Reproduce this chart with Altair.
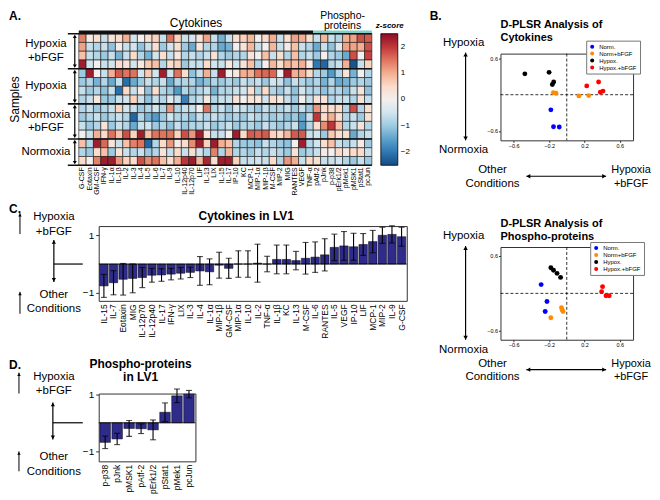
import altair as alt
import pandas as pd

# ---------------- data ----------------
cytokines = ["G-CSF", "Eotaxin", "GM-CSF", "IFN-γ", "IL-1α", "IL-1β", "IL-2", "IL-3", "IL-4", "IL-5",
             "IL-6", "IL-7", "IL-9", "IL-10", "IL-12p40", "IL-12p70", "LIF", "IL-13", "LIX", "IL-15",
             "IL-17", "IP-10", "KC", "MCP-1", "MIP-1α", "MIP-1β", "M-CSF", "MIP-2", "MIG", "RANTES",
             "VEGF", "TNF-α"]
phospho = ["pAtf-2", "pJnk", "p-p38", "pErk1/2", "pMek1", "pMSK1", "pStat1", "pcJun"]
sample_groups = ["Hypoxia\n+bFGF", "Hypoxia", "Normoxia\n+bFGF", "Normoxia"]
group_rows = [4, 4, 4, 3]

z_hyp_bfgf = [
    [1.4, 0.1, 0.4, -0.6, 0.3, 0.5, 1.0, -0.5, 0.0, 0.4, 0.6, -0.6, 1.5, 0.6, -0.6, -0.5, 0.3, 1.1, -0.6, -1.3, -0.6, 0.4, 0.6, 0.9, 0.0, 0.5, 1.0, -0.6, 0.4, 1.1, 1.0, 0.4, -0.6, 0.9, -0.6, -0.8, 1.0, 1.1, 1.8, 1.7],
    [1.1, -0.6, -0.8, -0.6, -1.1, 0.1, -0.6, -0.5, -1.1, -0.6, 0.4, -1.0, -0.5, 0.4, -1.0, -1.4, 0.2, -0.8, -0.8, -1.4, -1.3, 0.0, 0.3, 0.9, -0.6, 0.0, 0.9, -0.6, 0.1, 0.8, -0.6, -0.8, -1.4, -0.6, -1.1, -0.3, 1.1, 1.1, 1.0, 1.8],
    [0.8, -0.6, -0.8, -1.0, -0.6, -1.3, -0.6, 0.5, -0.8, -1.3, -0.5, 0.4, -0.6, 0.2, -0.8, -0.6, -0.8, -0.6, 0.3, -0.8, -1.0, -0.8, -0.8, 0.3, 0.0, 0.8, -0.6, 0.4, -0.8, 0.8, -0.8, -0.6, -1.0, 0.0, -0.8, -1.0, -1.4, 1.8, 0.0, 1.9],
    [2.3, -0.5, 0.0, -0.6, -0.5, 0.4, 0.3, -0.5, 0.2, 0.7, 0.8, -0.8, 0.4, 0.6, -1.0, -0.6, -0.6, 0.5, -0.5, -0.6, 0.2, -0.5, 0.3, 0.8, -0.8, 0.0, 0.9, 0.4, 0.9, 0.8, 1.0, 0.1, -2.0, -2.2, -0.8, -0.6, 1.0, -2.4, -0.6, 0.6],
]
z_hyp = [
    [-1.0, 2.3, 0.0, -0.6, 1.0, 1.7, 1.5, 1.5, -0.5, 0.7, -0.5, 2.3, -0.5, 1.5, 0.4, -1.1, -0.6, 1.0, -0.6, 2.3, 0.0, 0.2, 1.0, 1.0, 1.5, 1.6, 1.6, 0.0, 2.3, 1.0, 1.0, 0.5, -0.8, -1.0, -1.6, -0.8, 0.3, -1.3, 0.0, -0.8],
    [-1.0, -0.8, -1.3, -0.8, -1.4, -0.6, -2.1, -1.4, -1.0, -0.6, -0.8, -0.6, -1.4, -0.8, -0.8, -0.8, -1.3, -1.1, -0.8, -1.0, -0.8, -1.0, -0.6, -0.8, -0.6, -1.0, -0.5, -0.6, -1.1, -0.6, -0.8, -1.0, -0.8, -1.3, -0.8, -1.4, -1.3, -1.0, -0.8, -1.0],
    [-0.6, -1.0, -0.8, -1.1, -0.6, -2.1, 0.5, -0.6, 0.1, -1.1, 0.4, -0.8, -1.0, -1.6, -0.8, -1.0, -0.8, -0.6, -1.3, -0.8, -0.8, -0.6, -0.5, 0.4, -0.8, 0.5, -0.8, -1.0, -0.6, -1.1, -0.5, -0.8, -0.8, -1.1, -0.8, -0.8, -1.1, -0.6, 0.3, -1.1],
    [-0.8, -0.6, 0.2, -1.0, -1.0, -0.6, -0.5, 0.6, -0.6, -1.1, -0.6, -0.8, -0.3, -0.6, -1.9, -0.8, -0.6, 0.2, -0.8, -0.6, -0.6, 0.3, 0.0, 0.3, 0.2, -0.5, 0.4, 0.2, -0.6, -1.0, 0.0, -0.6, 0.3, 0.3, -0.8, -0.6, -0.6, -0.8, 0.3, -0.6],
]
z_norm_bfgf = [
    [-0.8, -0.6, -1.0, -0.8, -0.6, 0.6, -0.5, -0.6, -1.0, -0.8, -0.5, -0.8, 1.2, -0.8, -0.6, -0.6, 0.0, 1.5, -0.8, -0.6, -1.0, -0.5, -0.6, -0.8, -1.0, -0.6, -0.8, -0.8, -0.6, -1.0, -0.6, -1.0, 1.2, 0.5, 0.4, 0.5, -0.8, 1.8, -0.8, 0.4],
    [-1.0, -0.8, -0.6, -1.0, -0.8, -0.6, -0.8, -2.2, -0.8, -1.3, -1.6, -1.0, -0.5, -0.8, -0.8, -1.1, -0.6, -0.8, -0.6, -0.8, -1.0, -0.8, -1.0, -0.6, -0.8, -0.8, -1.0, -0.8, -1.1, -1.0, -1.4, -0.6, 2.0, 0.5, 1.0, 0.4, -0.8, -0.6, -1.0, 0.4],
    [-0.6, -1.0, -0.8, 0.3, -1.0, -0.6, -0.8, -1.4, -0.6, -0.5, -1.0, -0.8, -1.1, -0.6, -1.0, -0.8, -0.8, -0.6, -1.0, -0.8, -0.6, -1.0, -0.8, -0.8, -1.0, -0.6, -0.8, -1.0, -0.8, -0.6, -1.6, -0.8, 0.4, 1.3, 2.0, 0.8, -0.8, -0.6, 0.3, -0.8],
    [0.0, -0.6, 1.0, 0.5, 1.5, 0.8, 1.8, 0.6, 2.3, 0.8, 1.5, 1.5, 1.5, 0.6, 1.8, 1.2, 2.3, 0.3, -0.6, -0.6, 0.0, 2.3, 0.5, 1.7, 1.6, 1.7, 0.6, 0.5, 0.9, 1.7, 1.7, -0.6, -0.5, -1.0, 0.7, 0.4, 0.4, -1.4, -0.8, -0.6],
]
z_norm = [
    [0.8, -0.8, 2.3, 1.6, 0.3, -0.6, 0.8, 1.4, 1.5, -2.2, -0.8, 0.5, 1.2, 0.1, 0.5, 1.3, 2.3, 0.6, 2.3, 1.0, 0.8, -0.8, -1.0, -1.0, -1.1, -0.6, -0.8, -1.0, -1.1, 0.0, 2.3, -0.8, -0.5, 0.4, 0.8, -0.6, -0.8, -0.6, 0.1, -1.0],
    [-0.8, -1.0, 0.5, 0.8, -1.0, 0.3, -0.6, -0.8, -0.6, -1.0, -0.8, 0.3, -0.6, 0.5, -0.6, 0.4, -0.5, -0.8, 1.4, -0.8, 0.9, -0.8, -0.8, -1.0, -0.6, -0.8, -0.6, -0.8, -1.0, 0.3, -1.0, -0.8, -0.6, 0.1, 0.0, 0.5, 0.2, 0.5, 0.5, -0.6],
    [0.5, 0.0, 1.4, 2.3, 2.3, 1.2, 0.6, 0.5, 1.8, 1.3, 1.5, 0.8, 0.4, 1.0, 2.0, 2.3, 0.9, 2.2, 0.4, 2.3, 2.3, 0.6, -0.6, -0.6, -0.5, -0.6, 0.5, -0.8, 1.2, 1.0, -0.6, 0.5, 0.4, -0.6, -0.6, -0.5, -0.8, -1.0, -0.6, -1.0],
]

lv1_cyto_names = ["IL-15", "IL-7", "Eotaxin", "MIG", "IL-12p70", "IL-12p40", "IL-17", "IFN-γ", "LIX", "IL-3",
                  "IL-4", "IL-1α", "MIP-1β", "GM-CSF", "MIP-1α", "IL-10", "IL-2", "TNF-α", "IL-1β", "KC",
                  "IL-13", "M-CSF", "IL-6", "RANTES", "IL-5", "VEGF", "IP-10", "LIF", "MCP-1", "MIP-2",
                  "IL-9", "G-CSF"]
lv1_cyto_vals = [-0.76, -0.65, -0.53, -0.5, -0.47, -0.39, -0.38, -0.35, -0.32, -0.29,
                 -0.24, -0.27, -0.04, -0.15, 0.0, 0.0, 0.03, 0.0, 0.16, 0.16,
                 0.12, 0.2, 0.24, 0.32, 0.58, 0.63, 0.6, 0.68, 0.78, 1.0,
                 1.03, 0.95]
lv1_cyto_err = [0.4, 0.42, 0.55, 0.5, 0.35, 0.24, 0.22, 0.2, 0.2, 0.18,
                0.5, 0.45, 0.45, 0.35, 0.46, 0.46, 0.66, 0.27, 0.5, 0.5,
                0.32, 0.55, 0.53, 0.56, 0.46, 0.5, 0.47, 0.38, 0.39, 0.28,
                0.3, 0.33]

lv1_phos_names = ["p-p38", "pJnk", "pMSK1", "pAtf-2", "pErk1/2", "pStat1", "pMek1", "pcJun"]
lv1_phos_vals = [-0.69, -0.57, -0.2, -0.21, -0.25, 0.37, 0.95, 1.01]
lv1_phos_err = [0.22, 0.2, 0.28, 0.17, 0.35, 0.33, 0.24, 0.13]

score_groups = ["Norm.", "Norm+bFGF", "Hypox.", "Hypox.+bFGF"]
score_colors = ["#0000ff", "#ff8c00", "#000000", "#ff0000"]

cyto_grp = ["Norm."] * 3 + ["Norm+bFGF"] * 4 + ["Hypox."] * 4 + ["Hypox.+bFGF"] * 4
cyto_lv1 = [-0.18, -0.15, -0.085, -0.152, -0.122, 0.137, 0.248, -0.474, -0.2, -0.148, -0.163, 0.226, 0.36, 0.38, 0.41]
cyto_lv2 = [-0.25, -0.53, -0.535, 0.035, 0.025, -0.02, -0.015, 0.345, 0.37, 0.21, 0.17, 0.146, 0.21, 0.04, 0.06]

phos_grp = ["Norm."] * 3 + ["Norm+bFGF"] * 4 + ["Hypox."] * 4 + ["Hypox.+bFGF"] * 4
phos_lv1 = [-0.29, -0.224, -0.244, -0.18, -0.06, -0.042, -0.05, -0.18, -0.15, -0.11, -0.07, 0.405, 0.394, 0.444, 0.48]
phos_lv2 = [0.14, -0.13, -0.29, -0.39, -0.23, -0.29, -0.27, 0.41, 0.37, 0.32, 0.255, 0.107, 0.027, -0.037, -0.037]

BAR = "#2e2b8a"
one = pd.DataFrame({"k": [0]})
zero_df = pd.DataFrame({"z": [0.0]})


# ---------------- helpers ----------------
# note: for multi-line text, y is the centre of the FIRST line
def txt(s, x, y, size=11.5, weight="normal", align="center", baseline="middle", angle=0, style="normal",
        lh=None):
    return alt.Chart(one).mark_text(
        text=s, fontSize=size, fontWeight=weight, align=align, baseline=baseline, angle=angle,
        fontStyle=style, lineBreak="\n", color="black", lineHeight=lh or round(size * 1.2, 1)
    ).encode(x=alt.value(x), y=alt.value(y))


def seg(x1, y1, x2, y2, w=1.2):
    return alt.Chart(one).mark_rule(color="black", strokeWidth=w).encode(
        x=alt.value(x1), y=alt.value(y1), x2=alt.value(x2), y2=alt.value(y2))


def head(x, y, shape, size=18):
    return alt.Chart(one).mark_point(shape=shape, filled=True, size=size, color="black",
                                     opacity=1, strokeWidth=0).encode(x=alt.value(x), y=alt.value(y))


def vdouble(x, y1, y2, size=18):
    return [seg(x, y1, x, y2), head(x, y1 + 2, "triangle-up", size), head(x, y2 - 2, "triangle-down", size)]


def hdouble(x1, x2, y, size=18):
    return [seg(x1, y, x2, y), head(x1 + 2, y, "triangle-left", size), head(x2 - 2, y, "triangle-right", size)]


def uparrow(x, y1, y2):
    return [seg(x, y1, x, y2, 1.0), head(x, y1 + 2, "triangle-up", 12)]


# ---------------- panel A : heatmap ----------------
# heatmap cells start 20px left of / above the plot origin so that the plot origin
# lines up with panels C/D (left edge) and panel B (top edge)
W_A, H_A, SHIFT = 274, 112, 20
heat_cols = cytokines + phospho
rows = z_hyp_bfgf + z_hyp + z_norm_bfgf + z_norm
n_rows, n_cols = len(rows), len(heat_cols)
heat_df = pd.DataFrame([{"c0": c, "c1": c + 1, "r0": r, "r1": r + 1, "z": v}
                        for r, row in enumerate(rows) for c, v in enumerate(row)])
xq = alt.Scale(domain=[0, n_cols], range=[-SHIFT, W_A], nice=False, zero=False)
yq = alt.Scale(domain=[0, n_rows], range=[-SHIFT, H_A], nice=False, zero=False)

heat = alt.Chart(heat_df).mark_rect(stroke="#1a1a1a", strokeWidth=0.6).encode(
    x=alt.X("c0:Q", scale=xq, axis=None),
    x2="c1:Q",
    y=alt.Y("r0:Q", scale=yq, axis=None),
    y2="r1:Q",
    color=alt.Color("z:Q", scale=alt.Scale(scheme="redblue", reverse=True, domain=[-2.5, 2.5]),
                    legend=alt.Legend(title=None, orient="none", legendX=W_A + 9, legendY=-SHIFT,
                                      direction="vertical", gradientLength=H_A + SHIFT, gradientThickness=17,
                                      values=[-2, -1, 0, 1, 2], labelFontSize=8,
                                      gradientStrokeColor="black", gradientStrokeWidth=0.8,
                                      padding=0, labelOffset=3)),
)

lab_df = pd.DataFrame({"pos": [i + 0.5 for i in range(n_cols)], "name": heat_cols})
col_labels = alt.Chart(lab_df).mark_text(angle=270, align="right", baseline="middle", fontSize=7).encode(
    x=alt.X("pos:Q", scale=xq, axis=None), y=alt.value(H_A + 2), text="name:N")

edges = [0]
for n in group_rows:
    edges.append(edges[-1] + n)
sep_df = pd.DataFrame({"b": edges})
seps = alt.Chart(sep_df).mark_rule(color="#111", strokeWidth=1.6).encode(
    y=alt.Y("b:Q", scale=yq, axis=None), x=alt.value(-SHIFT - 11), x2=alt.value(W_A))

grp_df = pd.DataFrame({"label": sample_groups, "start": edges[:-1], "end": edges[1:]})
grp_df["mid"] = (grp_df["start"] + grp_df["end"]) / 2
grp_df["ys"] = grp_df["start"] + 0.3
grp_df["ye"] = grp_df["end"] - 0.3
grp_df["two"] = grp_df["label"].str.contains("\n")
GRP_LH = 13.5
grp_text1 = alt.Chart(grp_df[~grp_df["two"]]).mark_text(fontSize=11.5).encode(
    x=alt.value(-SHIFT - 33), y=alt.Y("mid:Q", scale=yq, axis=None), text="label:N")
grp_text2 = alt.Chart(grp_df[grp_df["two"]]).mark_text(
    fontSize=11.5, lineBreak="\n", lineHeight=GRP_LH, dy=-GRP_LH / 2).encode(
    x=alt.value(-SHIFT - 33), y=alt.Y("mid:Q", scale=yq, axis=None), text="label:N")
grp_line = alt.Chart(grp_df).mark_rule(color="black", strokeWidth=1.2).encode(
    x=alt.value(-SHIFT - 4), y=alt.Y("ys:Q", scale=yq, axis=None), y2="ye:Q")
grp_up = alt.Chart(grp_df).mark_point(shape="triangle-up", filled=True, size=16, color="black", opacity=1).encode(
    x=alt.value(-SHIFT - 4), y=alt.Y("ys:Q", scale=yq, axis=None))
grp_dn = alt.Chart(grp_df).mark_point(shape="triangle-down", filled=True, size=16, color="black", opacity=1).encode(
    x=alt.value(-SHIFT - 4), y=alt.Y("ye:Q", scale=yq, axis=None))

hdr_df = pd.DataFrame({"x0": [0, len(cytokines)], "x1": [len(cytokines), n_cols],
                       "col": ["#111111", "#7ecfcc"]})
hdr_line = alt.Chart(hdr_df).mark_rule(strokeWidth=2.5).encode(
    x=alt.X("x0:Q", scale=xq, axis=None), x2="x1:Q", y=alt.value(-SHIFT - 2),
    stroke=alt.Stroke("col:N", scale=None))
hdr_cyto = alt.Chart(pd.DataFrame({"pos": [len(cytokines) / 2], "t": ["Cytokines"]})).mark_text(
    fontSize=12).encode(x=alt.X("pos:Q", scale=xq, axis=None), y=alt.value(-SHIFT - 11), text="t:N")
hdr_phos = alt.Chart(pd.DataFrame({"pos": [len(cytokines) + len(phospho) / 2], "t": ["Phospho-\nproteins"]})).mark_text(
    fontSize=10.5, lineBreak="\n", lineHeight=10.5).encode(
    x=alt.X("pos:Q", scale=xq, axis=None), y=alt.value(-SHIFT - 18), text="t:N")

panel_a = alt.layer(
    heat, col_labels, seps, grp_line, grp_up, grp_dn, grp_text1, grp_text2, hdr_line, hdr_cyto, hdr_phos,
    txt("A.", -90, -43, size=12, weight="bold", align="left", baseline="top"),
    txt("Samples", -84, (H_A - SHIFT) / 2, size=12, angle=270),
    txt("z-score", W_A + 18, -SHIFT - 8, size=8, weight="bold", style="italic"),
).properties(width=W_A, height=H_A, view=alt.ViewBackground(stroke="transparent"))


# ---------------- bar panels C / D ----------------
def lv1_panel(names, vals, errs, W, H, ydom, title, label_size, ann):
    df = pd.DataFrame({"name": names, "v": vals,
                       "lo": [v - e for v, e in zip(vals, errs)],
                       "hi": [v + e for v, e in zip(vals, errs)]})
    ys = alt.Scale(domain=ydom, nice=False, zero=False)
    xband = alt.Scale(paddingInner=0.12, paddingOuter=0.1)
    xax = alt.X("name:N", sort=names, scale=xband,
                axis=alt.Axis(labelAngle=-90, labelFontSize=label_size, ticks=False, domain=False,
                              title=None, labelPadding=3))
    xplain = alt.X("name:N", sort=names, scale=xband, title=None)
    bars = alt.Chart(df).mark_bar(color=BAR, stroke="black", strokeWidth=0.5).encode(
        x=xax,
        y=alt.Y("v:Q", scale=ys, axis=alt.Axis(values=[-1, 0, 1], labelFontSize=10, title=None, grid=False,
                                               domain=False, tickSize=3, labelPadding=2)),
        y2=alt.datum(0))
    base0 = alt.Chart(zero_df).mark_rule(color="black", strokeWidth=0.8).encode(y=alt.Y("z:Q", title=None))
    err = alt.Chart(df).mark_rule(color="black", strokeWidth=1.1).encode(
        x=xplain, y=alt.Y("lo:Q", title=None), y2="hi:Q")
    cap_lo = alt.Chart(df).mark_tick(color="black", thickness=1.1, size=6).encode(
        x=xplain, y=alt.Y("lo:Q", title=None))
    cap_hi = alt.Chart(df).mark_tick(color="black", thickness=1.1, size=6).encode(
        x=xplain, y=alt.Y("hi:Q", title=None))
    cross_h = alt.Chart(zero_df).mark_rule(color="black", strokeWidth=1.2).encode(
        x=alt.value(ann["cx"]), x2=alt.value(-16), y=alt.Y("z:Q", title=None))
    layers = [bars, base0, err, cap_lo, cap_hi, cross_h]
    layers += vdouble(ann["cx"], ann["v1"], ann["v2"])
    layers += uparrow(ann["ux"], ann["u1"][0], ann["u1"][1])
    layers += uparrow(ann["ux"], ann["u2"][0], ann["u2"][1])
    layers += [txt(ann["lab"], -90, ann["laby"], size=12, weight="bold", align="left", baseline="top"),
               txt(title, ann["tx"], ann["ty"], size=12, weight="bold", lh=13.5),
               txt("Hypoxia\n+bFGF", -45, ann["t1"], lh=14.5),
               txt("Other\nConditions", -45, ann["t2"], lh=14.5)]
    return alt.layer(*layers).properties(width=W, height=H)


panel_c = lv1_panel(lv1_cyto_names, lv1_cyto_vals, lv1_cyto_err, 309, 75, [-1.28, 1.32],
                    "Cytokines  in LV1", 8.5,
                    dict(cx=-45, v1=14, v2=56, ux=-79, u1=(-13, 8), u2=(66, 88), lab="C.", laby=-22,
                         t1=-9, t2=69, tx=148, ty=-10))
panel_d = lv1_panel(lv1_phos_names, lv1_phos_vals, lv1_phos_err, 97, 68, [-1.36, 1.03],
                    "Phospho-proteins\nin LV1", 8.5,
                    dict(cx=-46, v1=9, v2=46, ux=-80, u1=(-21, 0), u2=(58, 78), lab="D.", laby=-34,
                         t1=-17, t2=64, tx=42, ty=-30))


# ---------------- score panels B ----------------
def score_panel(lv1, lv2, grp, title, ydom, H, leg_x, leg_y, title_y, show_label):
    W = 133
    df = pd.DataFrame({"grp": grp, "lv1": lv1, "lv2": lv2})
    ticks = [-0.6, -0.4, -0.2, 0, 0.2, 0.4, 0.6]
    xs = alt.Scale(domain=[-0.75, 0.75], nice=False, zero=False)
    ys = alt.Scale(domain=ydom, nice=False, zero=False)
    ax = dict(values=ticks, format="~g", labelFontSize=5.5, titleFontSize=7, titleFontWeight="normal",
              grid=False, tickSize=2, domain=False, titlePadding=2, labelPadding=1)
    pts = alt.Chart(df).mark_circle(size=24, opacity=1).encode(
        x=alt.X("lv1:Q", scale=xs, axis=alt.Axis(title="Scores on LV1", **ax)),
        y=alt.Y("lv2:Q", scale=ys, axis=alt.Axis(title="Scores on LV2", **ax)),
        color=alt.Color("grp:N", scale=alt.Scale(domain=score_groups, range=score_colors),
                        legend=alt.Legend(title=None, orient="none", legendX=leg_x, legendY=leg_y,
                                          symbolType="circle", symbolSize=16, labelFontSize=6, padding=3,
                                          rowPadding=1, fillColor="white", strokeColor="#777",
                                          symbolStrokeWidth=0, labelLimit=80)))
    vline = alt.Chart(zero_df).mark_rule(strokeDash=[3, 2], color="black", strokeWidth=0.8).encode(
        x=alt.X("z:Q", title=None))
    hline = alt.Chart(zero_df).mark_rule(strokeDash=[3, 2], color="black", strokeWidth=0.8).encode(
        y=alt.Y("z:Q", title=None))
    layers = [vline, hline, pts]
    layers += vdouble(-35, -1, H, 20)
    layers += hdouble(26, 106, 123, 20)
    if show_label:
        layers.append(txt("B.", -71, -43, size=12, weight="bold", align="left", baseline="top"))
    layers += [txt(title, 0, title_y, size=11, weight="bold", align="left", lh=13),
               txt("Hypoxia", -37, -11),
               txt("Normoxia", -37, H + 10),
               txt("Other\nConditions", -8, 117, lh=13.5),
               txt("Hypoxia\n+bFGF", 131, 117, size=11, lh=13.5)]
    return alt.layer(*layers).properties(width=W, height=H)


panel_b1 = score_panel(cyto_lv1, cyto_lv2, cyto_grp, "D-PLSR Analysis  of\nCytokines",
                       [-0.755, 0.68], 87, 86, -13, -29, True)
panel_b2 = score_panel(phos_lv1, phos_lv2, phos_grp, "D-PLSR Analysis  of\nPhospho-proteins",
                       [-0.74, 0.74], 93, 90, -5, -23, False)

left = alt.vconcat(panel_a, alt.vconcat(panel_c, panel_d, spacing=18), spacing=6)
right = alt.vconcat(panel_b1, panel_b2, spacing=27).resolve_scale(color="independent").resolve_legend(
    color="independent")

chart = alt.hconcat(left, right, spacing=18).resolve_scale(color="independent").resolve_legend(
    color="independent").properties(padding=0).configure(font="Liberation Sans").configure_view(
    stroke="#333", strokeWidth=1).configure_axis(labelColor="black", titleColor="black", tickColor="#333")

chart.save("out.html", embed_options={"renderer": "svg", "actions": False})
